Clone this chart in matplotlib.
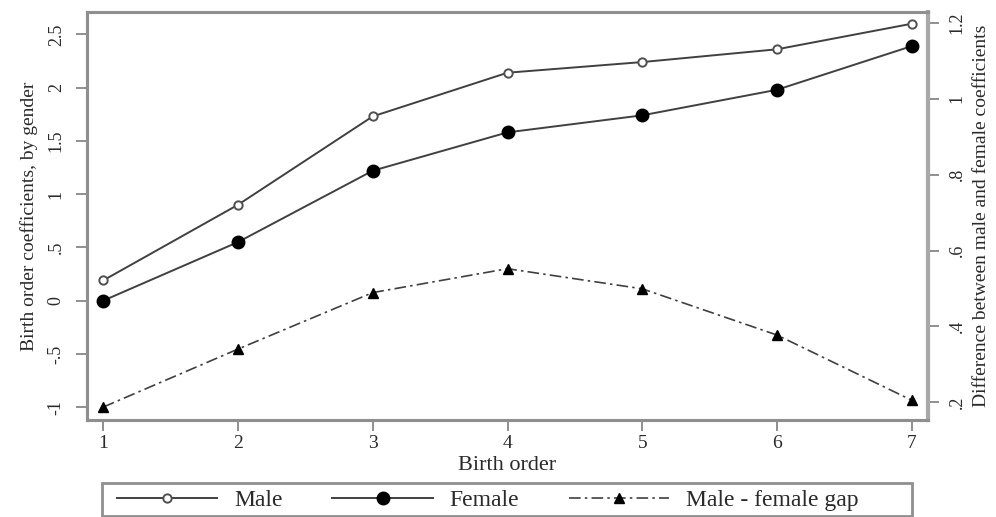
import matplotlib.pyplot as plt
from matplotlib.patches import Rectangle
from matplotlib.ticker import FuncFormatter

birth_order = [1, 2, 3, 4, 5, 6, 7]
male = [0.19, 0.90, 1.73, 2.14, 2.24, 2.36, 2.60]
female = [0.00, 0.55, 1.22, 1.58, 1.74, 1.98, 2.39]
gap = [0.187, 0.34, 0.489, 0.552, 0.499, 0.377, 0.205]

left_ticks = [-1, -0.5, 0, 0.5, 1, 1.5, 2, 2.5]
right_ticks = [0.2, 0.4, 0.6, 0.8, 1.0, 1.2]

plt.rcParams['font.family'] = ['Liberation Serif', 'DejaVu Serif']


def stata_fmt(v, pos=None):
    # Stata style: drop the leading zero (".5", "-.5")
    s = f'{v:g}'
    if s.startswith('0.'):
        s = s[1:]
    elif s.startswith('-0.'):
        s = '-' + s[2:]
    return s


spine_col = '#8f8f8f'
line_col = '#404040'
text_col = '#2a2a2a'

W, H = 996, 517
fig = plt.figure(figsize=(W / 100, H / 100), dpi=100)
ax = fig.add_axes([87 / W, 1 - 420 / H, 841 / W, 408 / H])
ax2 = ax.twinx()

l1, = ax.plot(birth_order, male, color=line_col, lw=1.4, marker='o', ms=6,
              mfc='white', mec='#505050', mew=1.4, label='Male')
l2, = ax.plot(birth_order, female, color=line_col, lw=1.4, marker='o', ms=9,
              mfc='black', mec='black', label='Female')
l3, = ax2.plot(birth_order, gap, color=line_col, lw=1.2, ls=(0, (7, 2.5, 1.5, 2.5)),
               marker='^', ms=7, mfc='black', mec='black', label='Male - female gap')

ax.set_xlim(0.88, 7.12)
ax.set_ylim(-1.12, 2.71)
ax2.set_ylim(0.153, 1.229)
ax.set_xticks(birth_order)
ax.set_yticks(left_ticks)
ax2.set_yticks(right_ticks)
ax.yaxis.set_major_formatter(FuncFormatter(stata_fmt))
ax2.yaxis.set_major_formatter(FuncFormatter(stata_fmt))

for a in (ax, ax2):
    for s in a.spines.values():
        s.set_color(spine_col)
        s.set_linewidth(2.2)
    a.tick_params(colors=spine_col, labelcolor=text_col, length=8, width=1.4)
ax2.spines['right'].set_color('#a8a8a8')
ax2.spines['right'].set_linewidth(3)
ax.tick_params(axis='x', labelsize=14, pad=3)
ax.tick_params(axis='y', labelsize=13, pad=8)
ax2.tick_params(axis='y', labelsize=13, pad=7)
for lab in ax.get_yticklabels() + ax2.get_yticklabels():
    lab.set_rotation(90)
    lab.set_va('center')

ax.set_xlabel('Birth order', fontsize=16, color=text_col)
ax.xaxis.set_label_coords(0.5, -0.088)
ax.set_ylabel('Birth order coefficients, by gender', fontsize=14, color=text_col)
ax.yaxis.set_label_coords(-0.058, 0.5)
ax2.set_ylabel('Difference between male and female coefficients', fontsize=14,
               color=text_col)
ax2.yaxis.set_label_coords(1.0535, 0.5)

# legend row, with a Stata-like box around it
leg = fig.legend(handles=[l1, l2, l3], loc='center left', ncol=3,
                 bbox_to_anchor=(117 / W, 1 - 500 / H), fontsize=17,
                 frameon=False, handlelength=4.25, handletextpad=0.72,
                 columnspacing=2.1, borderpad=0, borderaxespad=0)
for t in leg.get_texts():
    t.set_color(text_col)
fig.patches.append(Rectangle((102 / W, 1 - 516 / H), 810 / W, 33 / H,
                             transform=fig.transFigure, fill=False,
                             edgecolor=spine_col, linewidth=2))

fig.savefig('out.png', dpi=100)
